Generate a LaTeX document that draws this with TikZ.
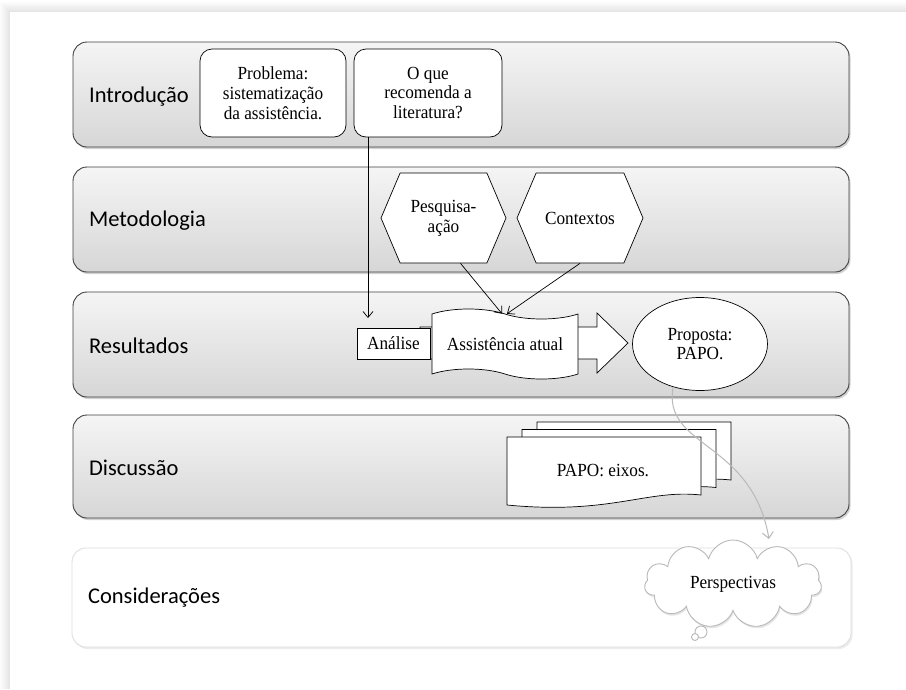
\documentclass[tikz,border=0pt]{standalone}
\usepackage{fontspec}
\setmainfont{Liberation Serif}[FakeStretch=0.93]
\newfontfamily\calibri{Carlito}
\usetikzlibrary{positioning,shapes.geometric,shapes.symbols,shadows,arrows.meta,calc}

\begin{document}
\begin{tikzpicture}[x=1pt, y=-1pt,
  band/.style={draw=black!75, line width=0.9pt, rounded corners=14pt, minimum width=776pt, minimum height=105pt,
    top color=gray!8, bottom color=gray!32, drop shadow={opacity=0.35, shadow xshift=1.5pt, shadow yshift=-2pt}},
  lastband/.style={draw=gray!25, line width=0.9pt, rounded corners=14pt, minimum width=779pt, minimum height=99pt,
    fill=white, drop shadow={opacity=0.15, shadow xshift=1.5pt, shadow yshift=-2pt}},
  bandlabel/.style={anchor=west, font=\calibri\fontsize{22.5}{27}\selectfont},
  txt/.style={font=\fontsize{18.5}{19.8}\selectfont, align=center, inner sep=0pt},
  box/.style={txt, draw, fill=white, line width=0.7pt},
  hexa/.style={box, shape=signal, signal to=east and west, signal pointer angle=134, minimum height=90pt},
  arr/.style={-{Straight Barb[length=6pt, width=10pt]}, line width=0.7pt},
  grayarr/.style={-{Straight Barb[length=6pt, width=11pt]}, line width=1pt, gray!55}
]
\useasboundingbox (0,0) rectangle (906,689);

% page
\foreach \i in {10,...,1} {
  \pgfmathtruncatemacro{\c}{(11-\i)*2}
  \fill[gray!\c] (10-\i,12-\i) rectangle (906,689);
}
\fill[white] (10,12) rectangle (906,689);

% bands
\node[band] (intro) at (461,94.5) {};
\node[band] (metod) at (461,219.5) {};
\node[band] (result) at (461,344.5) {};
\node[band, minimum height=103pt] (disc) at (461,466.5) {};
\node[lastband] (consid) at (461.5,597.5) {};

\node[bandlabel] at ([xshift=13pt, yshift=-2pt]intro.west) {Introdução};
\node[bandlabel] at ([xshift=13pt, yshift=-1pt]metod.west) {Metodologia};
\node[bandlabel] at ([xshift=13pt, yshift=-1pt]result.west) {Resultados};
\node[bandlabel] at ([xshift=13pt, yshift=-1pt]disc.west) {Discussão};
\node[bandlabel] at ([xshift=13pt]consid.west) {Considerações};

% Introducao
\node[box, rounded corners=12pt, minimum width=146pt, minimum height=88pt] (probl) at (273,93) {Problema:\\sistematização\\da assistência.};
\node[box, rounded corners=12pt, minimum width=148pt, minimum height=88pt] (oque) at (428,93) {O que\\recomenda a\\literatura?};

% Metodologia
\node[hexa, minimum width=125pt] (pesq) at (443.5,218) {Pesquisa-\\ação};
\node[hexa, minimum width=126pt] (cont) at (580,218) {Contextos};

% Resultados
\filldraw[fill=white, line width=0.7pt] (420,327) -- (597,327) -- (597,313) -- (628,343) -- (597,373) -- (597,359) -- (420,359) -- cycle;
\node[box, minimum width=73pt, minimum height=31pt] (anal) at (393.5,343.5) {Análise};
\node[box, tape, tape bend top=out and in, tape bend bottom=out and in, tape bend height=10pt,
  minimum width=146pt, minimum height=70pt] (assist) at (505,344) {Assistência atual};
\node[box, ellipse, minimum width=135pt, minimum height=93pt] (prop) at (700,344) {Proposta:\\PAPO.};

\coordinate (atip) at (368,318);
\draw[arr] (atip |- oque.south) -- (atip);
\draw[arr] ([xshift=17pt]pesq.south) -- ([xshift=-3pt]assist.north);
\draw[arr] (cont.south) -- ([xshift=2pt]assist.north);

% Discussao
\foreach \s in {30,15,0} {
  \filldraw[fill=white, line width=0.7pt] ($(507,437)+(\s,-\s/2)$) -- ++(194,0) -- ++(0,58)
    .. controls ++(-54,-6) and ++(104,10) .. ++(-194,10) -- cycle;
}
\node[txt] (eixos) at (603,470) {PAPO: eixos.};

% Consideracoes
\node[txt, cloud, cloud puffs=11, aspect=2.2, draw=gray!55, line width=0.9pt, fill=white,
  minimum width=177pt, minimum height=88pt, drop shadow={opacity=0.2, shadow xshift=1pt, shadow yshift=-2pt}] (persp) at (733,584) {Perspectivas};
\draw[gray!55, fill=white, line width=0.9pt] (701,632) circle (6);
\draw[gray!55, fill=white, line width=0.9pt] (695,637) circle (3.5);

\coordinate (ptip) at (769,539);
\draw[grayarr] (prop.238) .. controls (662,448) and (752,440) .. (ptip);

\end{tikzpicture}
\end{document}
